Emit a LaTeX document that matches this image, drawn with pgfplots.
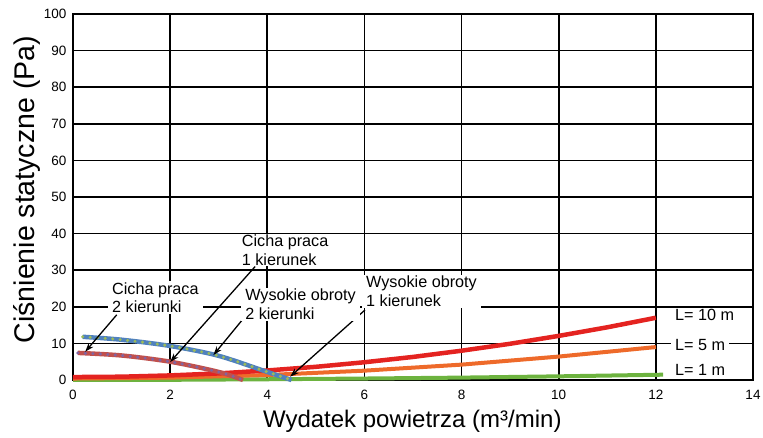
\documentclass[border=0pt]{standalone}
\usepackage{pgfplots}
\pgfplotsset{compat=1.18}
\usepackage{fontspec}
\setmainfont{Liberation Sans}
\usetikzlibrary{arrows.meta}
\definecolor{cRed}{HTML}{E42320}
\definecolor{cOrange}{HTML}{EE6A2A}
\definecolor{cGreen}{HTML}{6DB33F}
\definecolor{cBlue}{HTML}{4F81BD}
\definecolor{cGreenDot}{HTML}{9BBB59}
\definecolor{cMauve}{HTML}{C0504D}
\definecolor{cPurple}{HTML}{8064A2}
\begin{document}
\begin{tikzpicture}
\useasboundingbox (-73pt,-58pt) rectangle (690pt,380pt);
\begin{axis}[
  at={(0,0)}, anchor=south west,
  scale only axis, width=680pt, height=366pt,
  xmin=0, xmax=14, ymin=0, ymax=100,
  xtick={0,2,...,14}, ytick={0,10,...,100},
  grid=major,
  grid style={black, line width=1.6pt},
  axis line style={black, line width=2pt},
  major tick length=0pt,
  tick label style={font=\fontsize{13.5}{15}\selectfont},
  /pgf/number format/assume math mode=true,
  yticklabel style={xshift=-3pt},
  xticklabel style={yshift=-7pt},
  xlabel={Wydatek powietrza (m³/min)},
  ylabel={Ciśnienie statyczne (Pa)},
  every axis x label/.style={at={(axis description cs:0.499,-0.131)}, anchor=base, font=\fontsize{24}{28}\selectfont},
  every axis y label/.style={at={(axis description cs:-0.0559,0.52)}, rotate=90, anchor=base, font=\fontsize{28.5}{32}\selectfont},
  clip=false,
]
% L = 1 m
\addplot[cGreen, line width=4pt] coordinates {(0,0) (2,0.05) (4,0.2) (6,0.4) (8,0.65) (10,1.0) (12.15,1.45)};
% L = 5 m
\addplot[cOrange, line width=4pt] coordinates {(0,0.4) (2,0.64) (4,1.36) (6,2.55) (8,4.2) (10,6.4) (12,9.0)};
% L = 10 m
\addplot[cRed, line width=4.5pt] coordinates {(0,0.8) (1,0.9) (2,1.25) (3,1.8) (4,2.6) (5,3.6) (6,4.85) (7,6.3) (8,8.0) (9,9.9) (10,12.05) (11,14.4) (12,17.0)};
% Cicha praca
\addplot[cMauve, line width=4.5pt, smooth] coordinates {(0.1,7.4) (1,6.7) (2,5.0) (3,2.2) (3.5,0)};
\addplot[cPurple, line width=3.4pt, line cap=round, dash pattern=on 0pt off 7.5pt, smooth] coordinates {(0.1,7.4) (1,6.7) (2,5.0) (3,2.2) (3.5,0)};
% Wysokie obroty
\addplot[cBlue, line width=4.5pt, smooth] coordinates {(0.2,11.8) (1,11.0) (2,9.3) (3,6.6) (4,2.2) (4.5,0)};
\addplot[cGreenDot, line width=3.4pt, line cap=round, dash pattern=on 0pt off 7.5pt, smooth] coordinates {(0.2,11.8) (1,11.0) (2,9.3) (3,6.6) (4,2.2) (4.5,0)};
% arrows
\draw[black, line width=1.3pt, -{Stealth[length=9pt,width=6pt]}] (axis cs:0.90,17.8) -- (axis cs:0.25,7.7);
\draw[black, line width=1.3pt, -{Stealth[length=9pt,width=6pt]}] (axis cs:3.75,31.0) -- (axis cs:2.0,4.9);
\draw[black, line width=1.3pt, -{Stealth[length=9pt,width=6pt]}] (axis cs:3.54,17.3) -- (axis cs:2.89,6.8);
\draw[black, line width=1.3pt, -{Stealth[length=9pt,width=6pt]}] (axis cs:6.01,19.1) -- (axis cs:4.47,0.9);
% labels
\tikzset{lbl/.style={fill=white, inner xsep=4pt, inner ysep=1pt, anchor=west, align=left, font=\fontsize{16.2}{18.7}\selectfont}}
\node[lbl] at (axis cs:0.72,22.5) {Cicha praca\\2 kierunki};
\node[lbl] at (axis cs:3.39,35.5) {Cicha praca\\1 kierunek};
\node[lbl] at (axis cs:3.46,20.7) {Wysokie obroty\\2 kierunki};
\node[lbl] at (axis cs:5.95,24.2) {Wysokie obroty\\1 kierunek};
\node[lbl] at (axis cs:12.31,17.8) {L= 10 m};
\node[lbl] at (axis cs:12.31,9.6) {L= 5 m};
\node[lbl] at (axis cs:12.31,2.7) {L= 1 m};
\end{axis}
\end{tikzpicture}
\end{document}
